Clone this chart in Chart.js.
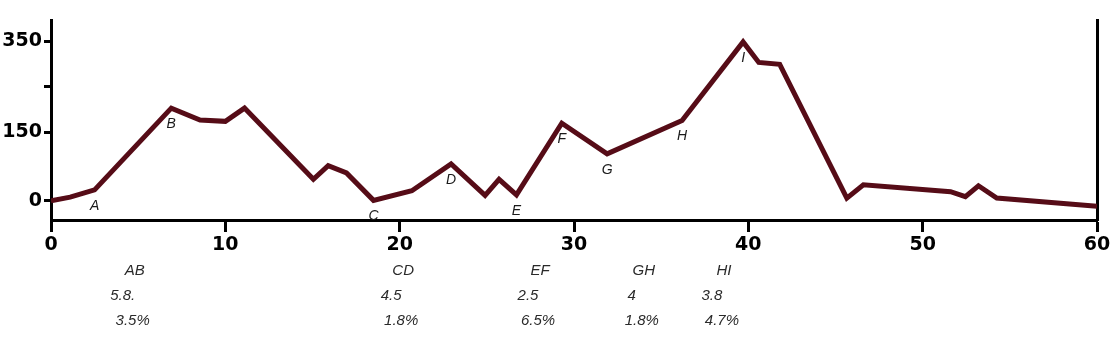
<!DOCTYPE html>
<html>
<head>
<meta charset="utf-8">
<script src="https://cdn.jsdelivr.net/npm/chart.js@4.4.1/dist/chart.umd.min.js"></script>
<style>
  html, body { margin: 0; padding: 0; background: #fff; }
  canvas { display: block; }
</style>
</head>
<body>
<canvas id="profile" width="1119" height="339"></canvas>
<script>
// elevation profile: distance (km) and height
const km   = [0, 1.1, 2.5, 6.9, 8.55, 10.0, 11.1, 15.05, 15.9, 16.95, 18.5, 20.7, 22.95, 24.9, 25.7, 26.7,
              29.3, 31.9, 36.2, 39.7, 40.6, 41.8, 45.65, 46.6, 51.6, 52.45, 53.2, 54.25, 60];
const elev = [0, 8, 24, 203, 177, 174, 203, 47, 77, 61, 1, 22, 81, 12, 47, 13,
              170, 103, 176, 348, 303, 299, 6, 35, 20, 9, 33, 6, -12];

const yTicks = [0, 150, 250, 350];
const yTickLabels = ['0', '150', '', '350'];

// named points on the profile
const pointNames = ['A', 'B', 'C', 'D', 'E', 'F', 'G', 'H', 'I'];
const pointKm    = [2.5, 6.9, 18.5, 22.95, 26.7, 29.3, 31.9, 36.2, 39.7];

// climbs listed under the axis
const segNames  = ['AB', 'CD', 'EF', 'GH', 'HI'];
const segKm     = [4.8, 20.2, 28.05, 34.0, 38.6];
const segLength = ['5.8.', '4.5', '2.5', '4', '3.8'];
const segGrade  = ['3.5%', '1.8%', '6.5%', '1.8%', '4.7%'];

const FONT = '"Liberation Sans", Arial, sans-serif';
const TICK_FONT = { family: '"DejaVu Sans", sans-serif', size: 19, weight: 'bold' };

const labelsPlugin = {
  id: 'profileLabels',
  afterDatasetsDraw(chart) {
    const { ctx, chartArea, scales: { x, y } } = chart;
    ctx.save();
    ctx.textAlign = 'center';
    ctx.textBaseline = 'middle';

    ctx.fillStyle = '#1a1a1a';
    ctx.font = 'italic 14px ' + FONT;
    pointNames.forEach((name, i) => {
      const idx = km.indexOf(pointKm[i]);
      const px = x.getPixelForValue(km[idx]);
      const py = y.getPixelForValue(elev[idx]);
      ctx.fillText(name, px, py + 16);
    });

    ctx.fillStyle = '#2a2a2a';
    ctx.font = 'italic 15px ' + FONT;
    segNames.forEach((name, i) => {
      const px = x.getPixelForValue(segKm[i]);
      ctx.fillText(name, px, chartArea.bottom + 51);
      ctx.fillText(segLength[i], px - 12, chartArea.bottom + 76);
      ctx.fillText(segGrade[i], px - 2, chartArea.bottom + 101);
    });
    ctx.restore();
  }
};

new Chart(document.getElementById('profile'), {
  type: 'line',
  data: {
    datasets: [{
      data: km.map((v, i) => ({ x: v, y: elev[i] })),
      borderColor: '#560c17',
      borderWidth: 5,
      pointRadius: 0,
      tension: 0,
      fill: false
    }]
  },
  options: {
    responsive: false,
    animation: false,
    layout: { padding: { top: 20, left: 0, right: 0, bottom: 0 } },
    plugins: { legend: { display: false }, tooltip: { enabled: false } },
    scales: {
      x: {
        type: 'linear',
        min: 0,
        max: 60,
        afterFit: (s) => { s.height = 119; },
        ticks: {
          stepSize: 10,
          padding: 2,
          color: '#000',
          font: TICK_FONT
        },
        grid: {
          drawOnChartArea: false,
          tickLength: 12,
          tickWidth: 3,
          tickColor: '#000'
        },
        border: { color: '#000', width: 3 }
      },
      y: {
        min: -42,
        max: 396,
        afterFit: (s) => { s.width = 51; },
        afterBuildTicks: (s) => { s.ticks = yTicks.map(v => ({ value: v })); },
        ticks: {
          padding: 2,
          color: '#000',
          font: TICK_FONT,
          callback: (v) => yTickLabels[yTicks.indexOf(v)]
        },
        grid: {
          drawOnChartArea: false,
          tickLength: 7,
          tickWidth: 3,
          tickColor: '#000'
        },
        border: { color: '#000', width: 3 }
      },
      y2: {
        position: 'right',
        afterFit: (s) => { s.width = 22; },
        ticks: { display: false },
        grid: { display: false },
        border: { color: '#000', width: 3 }
      }
    }
  },
  plugins: [labelsPlugin]
});
</script>
</body>
</html>
